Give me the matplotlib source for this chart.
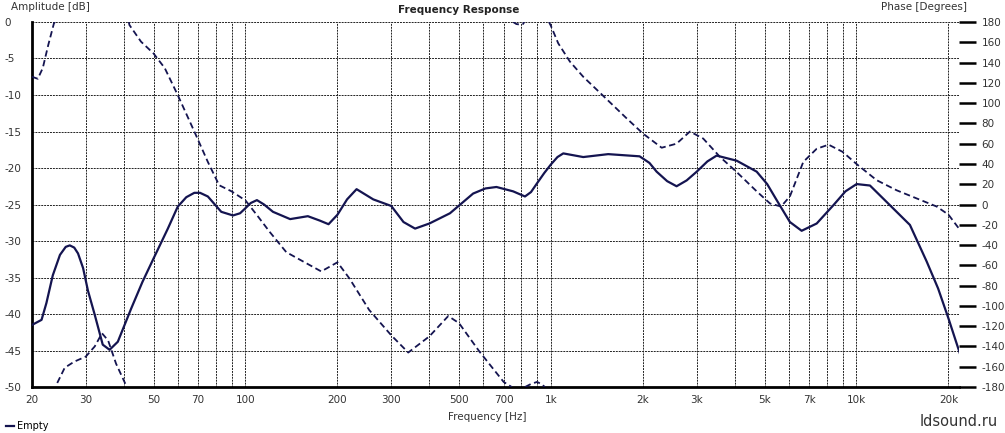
import numpy as np
import matplotlib.pyplot as plt
from matplotlib.ticker import FixedLocator, NullFormatter, NullLocator

# Amplitude (solid, left axis)
amp_hz = [20, 21.5, 22.3, 23.4, 24.7, 25.8, 26.6, 27.5, 28.3, 29.4, 30.5, 32.1,
          34.1, 35.9, 38.2, 42.3, 46, 50, 55.7, 60, 64, 68, 71, 75.3, 79, 83.3,
          91, 96, 100, 104, 109, 115, 123, 140, 160, 175, 187, 200, 215, 231,
          262, 300, 329, 359, 400, 467, 556, 610, 663, 752, 822, 860, 900,
          950, 1000, 1050, 1097, 1275, 1539, 1950, 2100, 2217, 2400, 2577, 2780,
          3000, 3250, 3485, 4054, 4713, 5100, 5480, 6054, 6615, 7410, 8400,
          9200, 10010, 11070, 12870, 14960, 16970, 18500, 20000, 21800]
amp_db = [-41.5, -40.8, -38.5, -34.7, -31.9, -30.8, -30.6, -30.9, -31.7, -33.7,
          -36.8, -40.1, -44.2, -44.9, -43.8, -39.2, -35.6, -32.4, -28.3, -25.3,
          -24.0, -23.4, -23.4, -23.9, -24.9, -26.0, -26.5, -26.2, -25.5, -24.8,
          -24.4, -25.0, -26.0, -27.0, -26.6, -27.2, -27.7, -26.4, -24.3, -22.9,
          -24.3, -25.2, -27.4, -28.3, -27.6, -26.2, -23.5, -22.8, -22.6, -23.2,
          -23.9, -23.3, -22.1, -20.7, -19.5, -18.5, -18.0, -18.5, -18.1, -18.4,
          -19.3, -20.5, -21.8, -22.5, -21.7, -20.5, -19.1, -18.3, -19.0, -20.5,
          -22.2, -24.4, -27.4, -28.6, -27.6, -25.1, -23.2, -22.2, -22.4, -25.1,
          -27.8, -32.8, -36.5, -40.6, -45.4]

# Phase (dashed, right axis), split where it wraps at +-180
phase_a_hz = [20, 20.9, 21.7, 22.6, 23.6, 23.8]
phase_a_deg = [126, 124, 134.6, 157, 178.6, 180]
phase_b_hz = [24.2, 25.6, 27.5, 30, 32.1, 33.9, 35.5, 37.7, 40.6, 40.8]
phase_b_deg = [-176, -161, -155, -150, -140, -127, -134, -157, -178, -180]
phase_c_hz = [41.5, 41.7, 45.5, 50, 54.4, 60, 68, 75.3, 82, 90, 100, 110, 120,
              136, 154, 177, 200, 219, 254, 300, 341, 400, 461, 500, 583, 700, 744]
phase_c_deg = [180, 177, 160.6, 149, 134.6, 108, 72, 42, 19, 13, 4, -12, -27,
               -47, -56, -66, -57, -73, -104, -129, -146, -130, -110, -117, -145,
               -175, -180]
phase_d_hz = [752, 770, 790, 810, 818]
phase_d_deg = [180, 178, 177.5, 178, 180]
phase_e_hz = [822, 860, 900, 930, 955]
phase_e_deg = [-180, -177, -175, -177, -180]
phase_f_hz = [985, 1000, 1056, 1153, 1275, 1520, 1768, 2000, 2303, 2577, 2850,
              3151, 3573, 4054, 4713, 5212, 5664, 6054, 6696, 7410, 8104, 9000,
              10000, 11640, 13540, 15740, 18300, 20000, 21810]
phase_f_deg = [180, 176, 159, 141, 126, 104, 85, 70, 56, 60, 72, 65, 47, 32, 13,
               1, -2, 8, 42, 55, 59, 52, 40, 24, 14, 6, -2, -10, -25]

x_ticks = [20, 30, 50, 70, 100, 200, 300, 500, 700, 1000, 2000, 3000, 5000,
           7000, 10000, 20000]
x_tick_labels = ['20', '30', '50', '70', '100', '200', '300', '500', '700', '1k',
                 '2k', '3k', '5k', '7k', '10k', '20k']
db_ticks = [0, -5, -10, -15, -20, -25, -30, -35, -40, -45, -50]
deg_ticks = list(range(-180, 181, 20))

navy = '#141450'
txt = '#333333'

fig = plt.figure(figsize=(10.05, 4.33), dpi=100)
ax = fig.add_axes([0.0318, 0.1062, 0.9227, 0.843])
ax.set_xscale('log')
ax.set_xlim(20, 21700)
ax.set_ylim(-50, 0)

# grid lines at every 1-2-3...9 step
grid_x = [m * 10 ** e for e in range(1, 5) for m in range(1, 10)
          if 20 <= m * 10 ** e <= 20000]
for gx in grid_x:
    ax.axvline(gx, color='#222222', lw=0.7, ls=(0, (2, 1)), zorder=1)
for gy in db_ticks[:-1]:
    ax.axhline(gy, color='#222222', lw=0.7, ls=(0, (2, 1)), zorder=1)

amp_line, = ax.plot(amp_hz, amp_db, color=navy, lw=1.6, zorder=3)

ax.xaxis.set_major_locator(FixedLocator(x_ticks))
ax.set_xticklabels(x_tick_labels)
ax.xaxis.set_minor_locator(NullLocator())
ax.xaxis.set_minor_formatter(NullFormatter())
ax.set_yticks(db_ticks)
ax.set_yticklabels([str(v) for v in db_ticks])
ax.tick_params(axis='x', length=0, pad=6, labelsize=7.5, labelcolor=txt)
ax.tick_params(axis='y', length=0, pad=20, labelsize=7.5, labelcolor=txt)
for lab in ax.get_yticklabels():
    lab.set_horizontalalignment('left')

for side in ['top', 'right']:
    ax.spines[side].set_visible(False)
ax.spines['left'].set_linewidth(2)
ax.spines['bottom'].set_linewidth(2)

ax2 = ax.twinx()
ax2.set_ylim(-180, 180)
for hz, deg in [(phase_a_hz, phase_a_deg), (phase_b_hz, phase_b_deg),
                (phase_c_hz, phase_c_deg), (phase_d_hz, phase_d_deg),
                (phase_e_hz, phase_e_deg), (phase_f_hz, phase_f_deg)]:
    ax2.plot(hz, deg, color=navy, lw=1.3, ls=(0, (3.5, 2)), zorder=3)
ax2.set_yticks(deg_ticks)
ax2.set_yticklabels([str(v) for v in deg_ticks])
ax2.tick_params(axis='y', direction='out', length=12, width=1.8, pad=4,
                labelsize=7.5, labelcolor=txt)
for side in ['top', 'right', 'left', 'bottom']:
    ax2.spines[side].set_visible(False)

fig.text(0.456, 0.977, 'Frequency Response', ha='center', va='center',
         fontsize=7.5, fontweight='bold', color='#222222')
fig.text(11 / 1005, 1 - 7 / 433, 'Amplitude [dB]', ha='left', va='center',
         fontsize=7.5, color=txt)
fig.text(967 / 1005, 1 - 7 / 433, 'Phase [Degrees]', ha='right', va='center',
         fontsize=7.5, color=txt)
fig.text(487 / 1005, 1 - 417 / 433, 'Frequency [Hz]', ha='center', va='center',
         fontsize=7.5, color=txt)
fig.text(998 / 1005, 1 - 422 / 433, 'ldsound.ru', ha='right', va='center',
         fontsize=10.5, color='#333333')

fig.legend(handles=[amp_line], labels=['Empty'], loc='lower left',
           bbox_to_anchor=(0, -0.01), frameon=False, handlelength=0.8,
           handletextpad=0.4, fontsize=7, borderaxespad=0.2)

fig.savefig('out.png', dpi=100)
